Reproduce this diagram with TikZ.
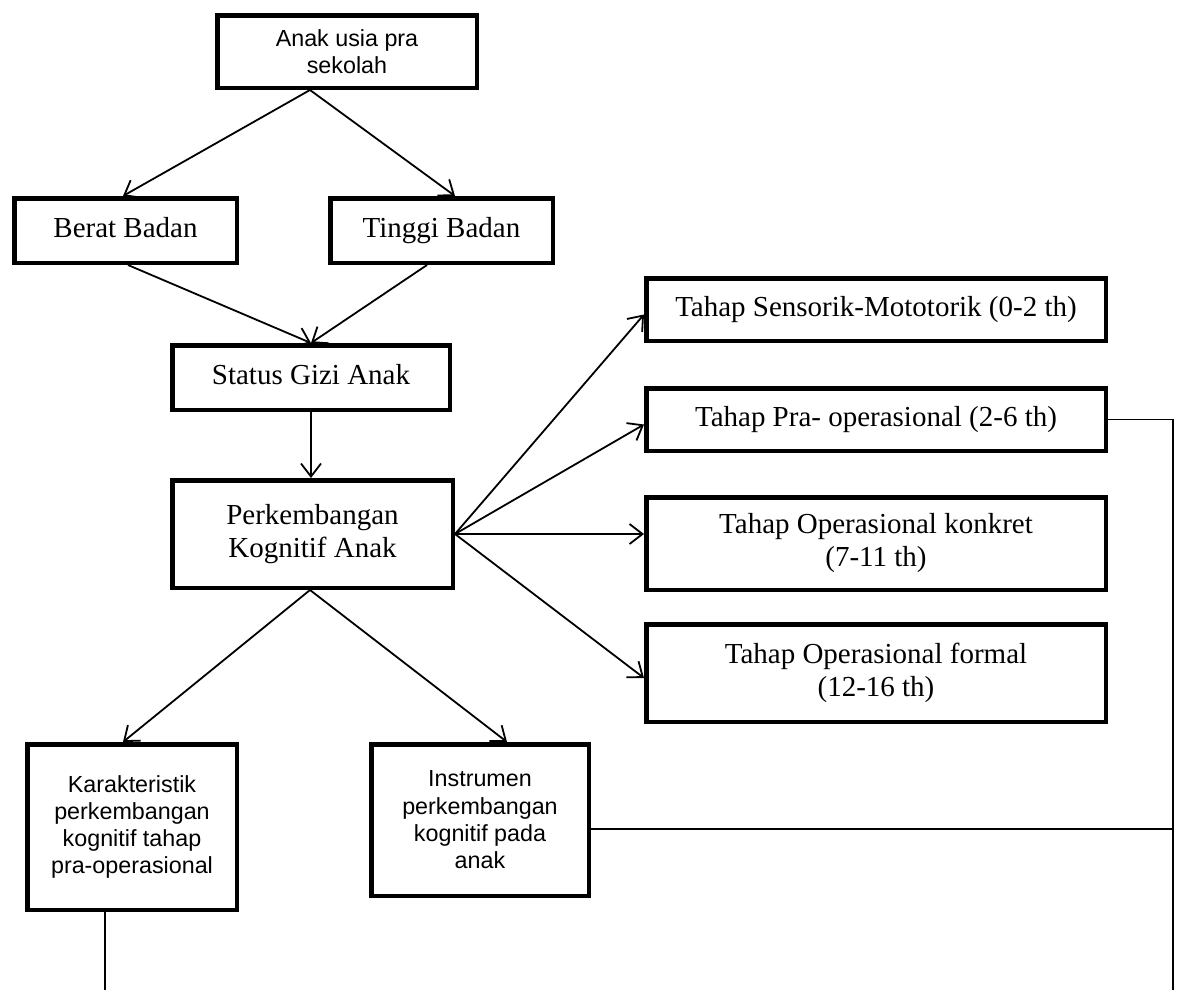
\documentclass[tikz,border=0pt]{standalone}
\usepackage{fontspec}
\setmainfont{Liberation Serif}
\setsansfont{Liberation Sans}
\usetikzlibrary{arrows.meta}
\begin{document}
\begin{tikzpicture}[x=1pt,y=-1pt,
  box/.style={draw, line width=4.5pt, align=center, inner sep=0pt, font=\fontsize{29}{33}\selectfont},
  single/.style={box, text height=20pt, text depth=6.5pt},
  sbox/.style={box, font=\sffamily\fontsize{23.3}{27.3}\selectfont},
  conn/.style={line width=1.8pt},
  arr/.style={conn, -{Straight Barb[length=13pt,width=20pt,line width=1.8pt]}},
  plain/.style={line width=1.3pt}]
\useasboundingbox[fill=white] (0,0) rectangle (1177,997);
\node[sbox, minimum width=259.5pt, minimum height=72.5pt] (top) at (347,51.5) {Anak usia pra\\sekolah};
\node[single, minimum width=222.5pt, minimum height=64.5pt] (berat) at (125.5,230.5) {Berat Badan};
\node[single, minimum width=222.5pt, minimum height=64.5pt] (tinggi) at (441.5,230.5) {Tinggi Badan};
\node[single, minimum width=277.5pt, minimum height=64.5pt] (status) at (311,377.5) {Status Gizi Anak};
\node[box, minimum width=280.5pt, minimum height=107.5pt] (perk) at (312.5,534) {Perkembangan\\Kognitif Anak};
\node[single, minimum width=459.5pt, minimum height=62.5pt] (sens) at (876,309.5) {Tahap Sensorik-Mototorik (0-2 th)};
\node[single, minimum width=459.5pt, minimum height=62.5pt] (pra) at (876,419.5) {Tahap Pra- operasional (2-6 th)};
\node[box, minimum width=459.5pt, minimum height=92.5pt] (konk) at (876,543.5) {Tahap Operasional konkret\\(7-11 th)};
\node[box, minimum width=459.5pt, minimum height=97.5pt] (formal) at (876,673) {Tahap Operasional formal\\(12-16 th)};
\node[sbox, minimum width=209.5pt, minimum height=165.5pt] (karak) at (132,827) {Karakteristik\\perkembangan\\kognitif tahap\\pra-operasional};
\node[sbox, minimum width=217.5pt, minimum height=151.5pt] (instr) at (480,820) {Instrumen\\perkembangan\\kognitif pada\\anak};
\coordinate (praend) at (1173,990);
\coordinate (karakend) at (105,990);
\draw[arr] ([xshift=-37pt]top.south) -- ([xshift=-2.5pt]berat.north);
\draw[arr] ([xshift=-37pt]top.south) -- ([xshift=13.5pt]tinggi.north);
\draw[arr] ([xshift=2.5pt]berat.south) -- (status.north);
\draw[arr] ([xshift=-14.5pt]tinggi.south) -- (status.north);
\draw[arr] (status.south) -- (status.south |- perk.north);
\draw[arr] (perk.east) -- ([yshift=-5pt]sens.west);
\draw[arr] (perk.east) -- ([yshift=-5pt]pra.west);
\draw[arr] (perk.east) -- (perk.east -| konk.west);
\draw[arr] (perk.east) -- ([yshift=-5pt]formal.west);
\draw[arr] ([xshift=-2.5pt]perk.south) -- ([xshift=-9pt]karak.north);
\draw[arr] ([xshift=-2.5pt]perk.south) -- ([xshift=27pt]instr.north);
\draw[plain] (pra.east) -| (praend);
\draw[plain] ([yshift=-9pt]instr.east) -- ([yshift=-9pt]instr.east -| praend);
\draw[plain] (karak.south -| karakend) -- (karakend);
\end{tikzpicture}
\end{document}
